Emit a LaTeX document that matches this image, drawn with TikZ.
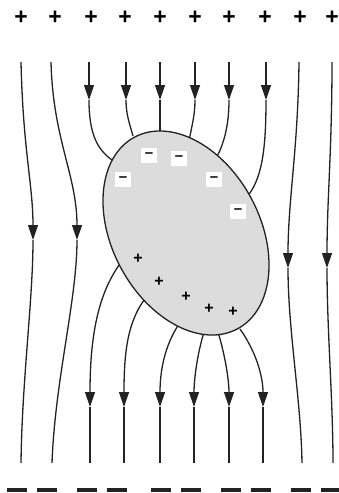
\documentclass[tikz,border=0pt]{standalone}
\usepackage{fontspec}
\setmainfont{Liberation Sans}
\usetikzlibrary{arrows.meta}
\definecolor{bodyfill}{HTML}{DCDCDC}
\definecolor{linegray}{HTML}{222222}
\tikzset{
  % field lines, plain and ending in a head
  fline/.style  = {line width=1.3pt, draw=linegray},
  fhead/.style  = {fline, -{Triangle[length=15pt,width=10pt]}},
  % charges on the plates and on the body
  plateplus/.style  = {font=\fontsize{23}{23}\selectfont\bfseries, inner sep=0pt},
  plateminus/.style = {line width=4.5pt, draw=linegray},
  bodyplus/.style   = {font=\fontsize{16}{16}\selectfont\bfseries, inner sep=0pt},
  bodyminus/.style  = {fill=white, minimum width=16pt, minimum height=15pt, inner sep=0pt,
                       font=\fontsize{15}{15}\selectfont\bfseries},
}

\begin{document}
\begin{tikzpicture}[x=1pt,y=-1pt]
\useasboundingbox (0,0) rectangle (339,493);

% --- plates -----------------------------------------------------------
\foreach \x [count=\i] in {21,55,91,125,160,195,229,265,300,332}
  \node[plateplus] (pp\i) at (\x,18) {+};
\foreach \x [count=\i] in {17,47,87,117,161,191,231,261,301,331}
  \draw[plateminus] (\x-10,490) coordinate (pm\i) -- (\x+10,490);

% --- outer lines, head halfway ---------------------------------------
\draw[fhead] (21,62) .. controls (23,150) and (33,185) .. (33,240);
\draw[fline] (33,240) .. controls (33,300) and (22,380) .. (21,463);
\draw[fhead] (51,62) .. controls (53,140) and (77,175) .. (77,240);
\draw[fline] (77,240) .. controls (77,300) and (55,380) .. (52,463);
\draw[fhead] (299,62) .. controls (298,150) and (288,200) .. (288,268);
\draw[fline] (288,268) .. controls (288,330) and (301,400) .. (302,463);
\draw[fhead] (332,62) .. controls (332,150) and (327,200) .. (327,268);
\draw[fline] (327,268) .. controls (327,330) and (333,400) .. (333,463);

% --- lines into the body ----------------------------------------------
\foreach \x in {89,126,160,195,229,266}
  \draw[fhead] (\x,62) -- (\x,100);
\draw[fline] (89,100)  .. controls (89,135) and (98,150) .. (112,160);
\draw[fline] (126,100) .. controls (126,115) and (130,125) .. (133,136);
\draw[fline] (160,100) -- (160,134);
\draw[fline] (195,100) .. controls (195,115) and (192,125) .. (189,141);
\draw[fline] (229,100) .. controls (229,125) and (224,145) .. (215,160);
\draw[fline] (266,100) .. controls (266,150) and (262,180) .. (246,198);

% --- lines out of the body --------------------------------------------
\draw[fhead] (122,261) .. controls (100,290) and (90,330) .. (90,407);
\draw[fhead] (147,296) .. controls (128,320) and (124,350) .. (124,407);
\draw[fhead] (179,324) .. controls (165,345) and (160,370) .. (160,407);
\draw[fhead] (204,332) .. controls (197,355) and (194,380) .. (194,407);
\draw[fhead] (218,332) .. controls (225,355) and (229,380) .. (229,407);
\draw[fhead] (240,329) .. controls (255,350) and (263,375) .. (263,407);
\foreach \x in {90,124,160,194,229,263}
  \draw[fline] (\x,407) -- (\x,463);

% --- conducting body --------------------------------------------------
\draw[line width=1.3pt, draw=linegray, fill=bodyfill, rotate around={-61.7:(186,233)}]
  (186,233) ellipse [x radius=108.8, y radius=73.9];
\foreach \x/\y [count=\i] in {149/155,179/158,123/179,214/179,238/211}
  \node[bodyminus] (bm\i) at (\x,\y) {–};
\foreach \x/\y [count=\i] in {138/259,159/282,186/297,209/309,233/312}
  \node[bodyplus] (bp\i) at (\x,\y) {+};
\end{tikzpicture}
\end{document}
